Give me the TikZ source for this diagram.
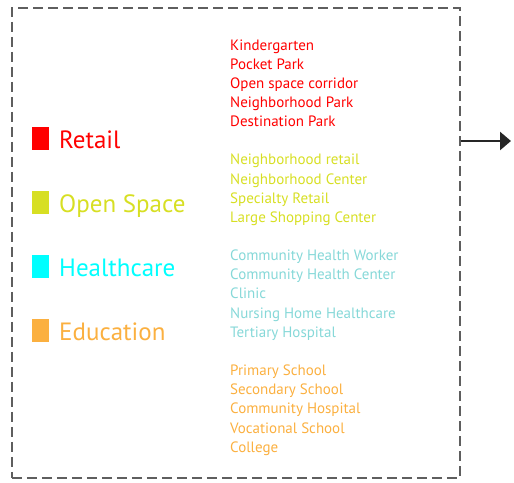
\documentclass[tikz,border=0pt]{standalone}
\usepackage{fontspec}
\setmainfont{PT Sans}
\usetikzlibrary{arrows.meta}
\definecolor{cRetail}{HTML}{FF0000}
\definecolor{cOpen}{HTML}{D7DF23}
\definecolor{cHealth}{HTML}{00FFFF}
\definecolor{cHealthList}{HTML}{86D8D8}
\definecolor{cEdu}{HTML}{FBB040}
\definecolor{cFrame}{HTML}{5E5E5E}
\tikzset{
  swatch/.style={minimum width=17pt, minimum height=23pt, inner sep=0pt, draw=none},
  legendlabel/.style={anchor=base west, inner sep=0pt, font=\fontsize{25}{27}\selectfont},
  listitem/.style={anchor=base west, inner sep=0pt, font=\fontsize{15}{17}\selectfont},
  frame/.style={draw=cFrame, line width=1.6pt, dash pattern=on 10pt off 5pt},
  outarrow/.style={draw=black!85, line width=2.6pt, -{Triangle[length=11pt,width=18pt]}}
}
\begin{document}
\begin{tikzpicture}[x=1pt,y=-1pt]
\useasboundingbox (0,0) rectangle (514,482);
\node[frame, minimum width=448pt, minimum height=470pt, anchor=north west, inner sep=0pt] (box) at (11,7) {};
\coordinate (tip) at (511,141);
\draw[outarrow] (box.east |- tip) -- (tip);
% legend
\node[swatch, fill=cRetail] (sR) at (40.5,138.5) {};
\node[swatch, fill=cOpen] (sO) at (40.5,202.5) {};
\node[swatch, fill=cHealth] (sH) at (40.5,266.5) {};
\node[swatch, fill=cEdu] (sE) at (40.5,330.5) {};
\node[legendlabel, text=cRetail] (lR) at (59,148) {Retail};
\node[legendlabel, text=cOpen] (lO) at (59,212) {Open Space};
\node[legendlabel, text=cHealth] (lH) at (59,276) {Healthcare};
\node[legendlabel, text=cEdu] (lE) at (59,340) {Education};
% lists
\foreach \t [count=\i from 0] in {Kindergarten,Pocket Park,Open space corridor,Neighborhood Park,Destination Park}
  \node[listitem, text=cRetail] (r\i) at (230,50+\i*19.15) {\t};
\foreach \t [count=\i from 6] in {Neighborhood retail,Neighborhood Center,Specialty Retail,Large Shopping Center}
  \node[listitem, text=cOpen] (o\i) at (230,50+\i*19.15) {\t};
\foreach \t [count=\i from 11] in {Community Health Worker,Community Health Center,Clinic,Nursing Home Healthcare,Tertiary Hospital}
  \node[listitem, text=cHealthList] (h\i) at (230,50+\i*19.15) {\t};
\foreach \t [count=\i from 17] in {Primary School,Secondary School,Community Hospital,Vocational School,College}
  \node[listitem, text=cEdu] (e\i) at (230,50+\i*19.15) {\t};
\end{tikzpicture}
\end{document}
